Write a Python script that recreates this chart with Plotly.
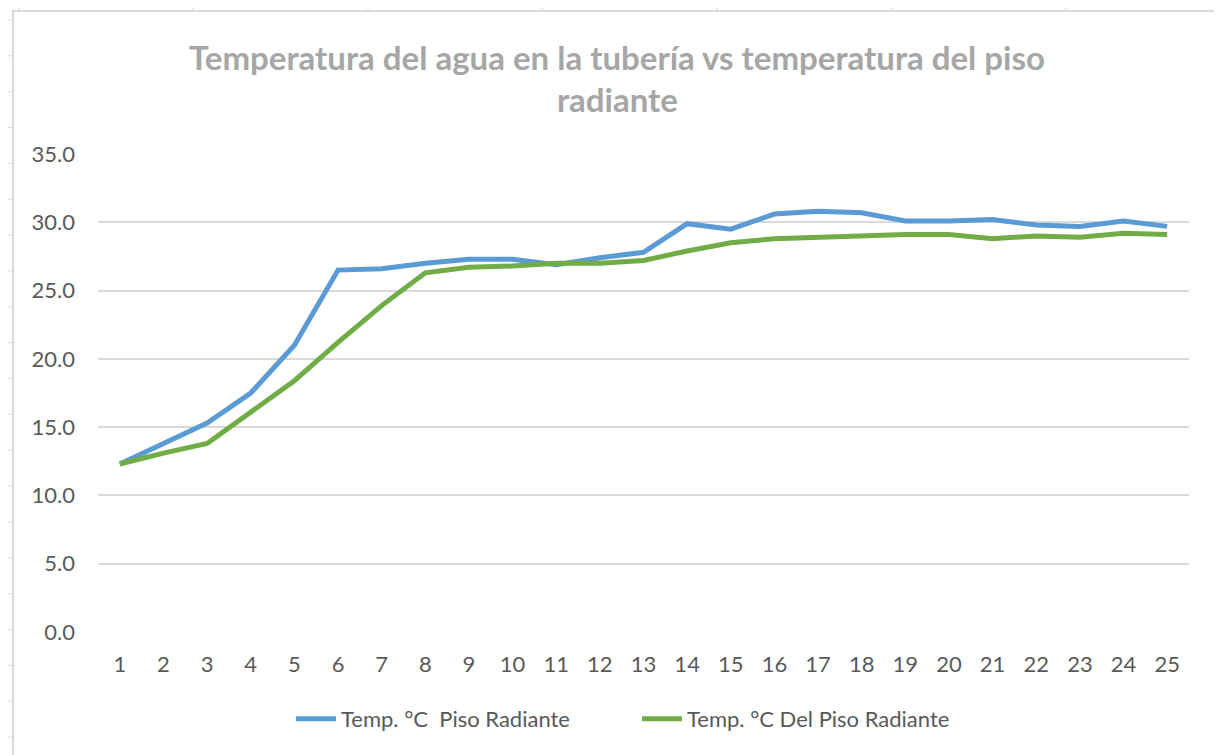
import plotly.graph_objects as go

# data
muestras = list(range(1, 26))
temp_piso_radiante = [12.3, 13.8, 15.3, 17.5, 21.0, 26.5, 26.6, 27.0, 27.3, 27.3,
                      26.9, 27.4, 27.8, 29.9, 29.5, 30.6, 30.8, 30.7, 30.1, 30.1,
                      30.2, 29.8, 29.7, 30.1, 29.7]
temp_del_piso_radiante = [12.3, 13.1, 13.8, 16.1, 18.4, 21.2, 23.9, 26.3, 26.7, 26.8,
                          27.0, 27.0, 27.2, 27.9, 28.5, 28.8, 28.9, 29.0, 29.1, 29.1,
                          28.8, 29.0, 28.9, 29.2, 29.1]

W, H = 1222, 755
OFF = 8                            # page body margin of the html file
L, R, T, B = 98, 1189, 154, 632   # plot area in page pixels


def px_x(px):
    return (px - L) / (R - L)


def px_y(py):
    return (B - py) / (B - T)


fig = go.Figure()
fig.add_trace(go.Scatter(
    x=muestras, y=temp_piso_radiante, mode='lines',
    name='Temp. °C  Piso Radiante',
    line=dict(color='#5B9BD5', width=5)
))
fig.add_trace(go.Scatter(
    x=muestras, y=temp_del_piso_radiante, mode='lines',
    name='Temp. °C Del Piso Radiante',
    line=dict(color='#70AD47', width=5)
))

# chart frame and faint spreadsheet marks around it
shapes = [dict(type='rect', xref='paper', yref='paper',
               x0=px_x(13), x1=px_x(1217), y0=px_y(770), y1=px_y(11),
               line=dict(color='#d9d9d9', width=2), layer='below')]
for k in range(21):
    yy = 20 + 35.85 * k
    shapes.append(dict(type='line', xref='paper', yref='paper',
                       x0=px_x(6), x1=px_x(13), y0=px_y(yy), y1=px_y(yy),
                       line=dict(color='#d9d9d9', width=1)))
for xx in [19, 193, 368, 542, 717, 892, 1066]:
    shapes.append(dict(type='line', xref='paper', yref='paper',
                       x0=px_x(xx), x1=px_x(xx), y0=px_y(4), y1=px_y(11),
                       line=dict(color='#d9d9d9', width=1)))

title_font = dict(family='Lato', size=33, color='#A6A6A6')
annotations = [
    dict(text='<b>Temperatura del agua en la tubería vs temperatura del piso</b>',
         xref='paper', yref='paper', x=px_x(617), y=px_y(57),
         xanchor='center', yanchor='middle', showarrow=False, font=title_font),
    dict(text='<b>radiante</b>',
         xref='paper', yref='paper', x=px_x(617), y=px_y(99),
         xanchor='center', yanchor='middle', showarrow=False, font=title_font),
]

fig.update_layout(
    width=W - OFF, height=H - OFF,
    margin=dict(l=L - OFF, r=W - R, t=T - OFF, b=H - B),
    paper_bgcolor='white', plot_bgcolor='white',
    font=dict(family='Lato', size=22, color='#595959'),
    shapes=shapes,
    annotations=annotations,
    showlegend=True,
    legend=dict(orientation='h', x=px_x(291), y=px_y(719),
                xanchor='left', yanchor='middle',
                font=dict(size=22, color='#595959'),
                itemwidth=40,
                entrywidth=291, entrywidthmode='pixels',
                bgcolor='rgba(0,0,0,0)'),
    hovermode='x unified',
)
fig.update_xaxes(
    range=[0.5, 25.5], tickmode='array', tickvals=muestras,
    ticktext=[str(m) for m in muestras],
    showgrid=False, zeroline=False, showline=False,
    ticks='', ticklabelstandoff=17,
)
fig.update_yaxes(
    range=[0, 35], dtick=5, tickformat='.1f',
    showgrid=True, gridcolor='#d9d9d9', gridwidth=1.5,
    zeroline=False, showline=False, ticks='', ticklabelstandoff=22,
)

fig.write_html("out.html")
